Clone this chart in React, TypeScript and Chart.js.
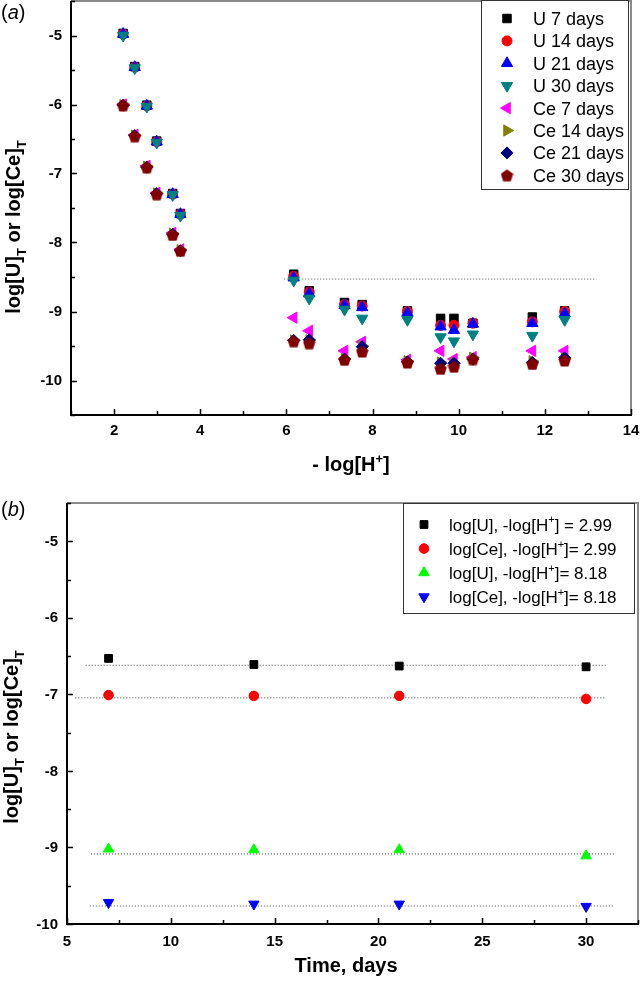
import React, { useEffect, useRef } from 'react';
import { Chart, registerables } from 'chart.js';
import { drawPoint } from 'chart.js/helpers';

Chart.register(...registerables);

const FONT = 'Arial, "Liberation Sans", Helvetica, sans-serif';

// ---------- Panel (a) data ----------
const phValues = [2.21, 2.48, 2.76, 2.99, 3.36, 3.54, 6.17, 6.53, 7.35, 7.76, 8.81, 9.58, 9.89, 10.33, 11.71, 12.46];
const u7 = [-4.97, -5.45, -6.01, -6.53, -7.29, -7.58, -8.46, -8.70, -8.87, -8.90, -8.99, -9.10, -9.10, -9.17, -9.08, -8.99];
const u14 = [-4.98, -5.46, -6.02, -6.54, -7.30, -7.59, -8.49, -8.72, -8.90, -8.92, -9.00, -9.20, -9.20, -9.17, -9.15, -9.00];
const u21 = [-4.98, -5.46, -6.02, -6.54, -7.30, -7.59, -8.51, -8.74, -8.91, -8.94, -9.02, -9.22, -9.27, -9.18, -9.17, -9.03];
const u30 = [-5.00, -5.47, -6.03, -6.55, -7.31, -7.61, -8.55, -8.81, -8.97, -9.10, -9.12, -9.37, -9.43, -9.33, -9.35, -9.12];
const ce7 = [-6.00, -6.44, -6.89, -7.28, -7.86, -8.10, -9.09, -9.28, -9.57, -9.44, -9.70, -9.57, -9.69, -9.66, -9.57, -9.57];
const ce14 = [-6.01, -6.45, -6.90, -7.29, -7.87, -8.11, -9.42, -9.42, -9.69, -9.50, -9.72, -9.74, -9.75, -9.67, -9.72, -9.68];
const ce21 = [-6.01, -6.45, -6.91, -7.29, -7.88, -8.12, -9.42, -9.41, -9.69, -9.51, -9.73, -9.75, -9.75, -9.69, -9.74, -9.67];
const ce30 = [-6.01, -6.46, -6.91, -7.30, -7.89, -8.12, -9.43, -9.46, -9.70, -9.58, -9.74, -9.83, -9.80, -9.69, -9.76, -9.71];
const labelsA = ['U 7 days', 'U 14 days', 'U 21 days', 'U 30 days', 'Ce 7 days', 'Ce 14 days', 'Ce 21 days', 'Ce 30 days'];
const xTicksA = [2, 4, 6, 8, 10, 12, 14];
const yTicksA = [-10, -9, -8, -7, -6, -5];
const refLineAX = [5.95, 13.2];
const refLineAY = [-8.53, -8.53];

// ---------- Panel (b) data ----------
const days = [7, 14, 21, 30];
const uLowPh = [-6.53, -6.61, -6.63, -6.64];
const ceLowPh = [-7.01, -7.02, -7.02, -7.06];
const uHighPh = [-9.02, -9.03, -9.03, -9.11];
const ceHighPh = [-9.72, -9.74, -9.74, -9.77];
const xTicksB = [5, 10, 15, 20, 25, 30];
const yTicksB = [-10, -9, -8, -7, -6, -5];
const refLinesBX = [[5.9, 31.0], [5.4, 30.9], [6.15, 31.35], [6.1, 31.35]];
const refLinesBY = [-6.62, -7.045, -9.085, -9.765];

type Seg = { t: string; s?: 'sub' | 'sup'; i?: boolean };

const labelsB: Seg[][] = [
  [{ t: 'log[U], -log[H' }, { t: '+', s: 'sup' }, { t: '] = 2.99' }],
  [{ t: 'log[Ce], -log[H' }, { t: '+', s: 'sup' }, { t: ']= 2.99' }],
  [{ t: 'log[U], -log[H' }, { t: '+', s: 'sup' }, { t: ']= 8.18' }],
  [{ t: 'log[Ce], -log[H' }, { t: '+', s: 'sup' }, { t: ']= 8.18' }],
];
const yTitle: Seg[] = [{ t: 'log[U]' }, { t: 'T', s: 'sub' }, { t: ' or log[Ce]' }, { t: 'T', s: 'sub' }];
const xTitleA: Seg[] = [{ t: '- log[H' }, { t: '+', s: 'sup' }, { t: ']' }];
const xTitleB: Seg[] = [{ t: 'Time, days' }];

function segFont(seg: Seg, size: number, weight: string) {
  const sz = seg.s ? size * 0.65 : size;
  return `${seg.i ? 'italic ' : ''}${weight} ${sz}px ${FONT}`;
}
function richWidth(ctx: CanvasRenderingContext2D, segs: Seg[], size: number, weight: string) {
  let w = 0;
  for (const s of segs) {
    ctx.font = segFont(s, size, weight);
    w += ctx.measureText(s.t).width;
  }
  return w;
}
function drawRich(ctx: CanvasRenderingContext2D, segs: Seg[], x: number, y: number, size: number, weight: string, align: 'left' | 'center') {
  const w = richWidth(ctx, segs, size, weight);
  let cx = align === 'center' ? x - w / 2 : x;
  ctx.textBaseline = 'alphabetic';
  ctx.textAlign = 'left';
  ctx.fillStyle = '#000';
  for (const s of segs) {
    ctx.font = segFont(s, size, weight);
    const dy = s.s === 'sub' ? size * 0.28 : s.s === 'sup' ? -size * 0.42 : 0;
    ctx.fillText(s.t, cx, y + dy);
    cx += ctx.measureText(s.t).width;
  }
}

function pentagonImage(color: string, size: number) {
  const c = document.createElement('canvas');
  c.width = size;
  c.height = size;
  const g = c.getContext('2d')!;
  const r = size / 2;
  const cy = r + (size - 1.809 * r) / 2;
  g.fillStyle = color;
  g.beginPath();
  for (let i = 0; i < 5; i++) {
    const a = -Math.PI / 2 + (i * 2 * Math.PI) / 5;
    const px = r + r * Math.cos(a);
    const py = cy + r * Math.sin(a);
    if (i === 0) g.moveTo(px, py);
    else g.lineTo(px, py);
  }
  g.closePath();
  g.fill();
  return c;
}

type Marker = { color: string; style: any; rotation: number; radius: number };

type DecorOpts = {
  xMinor: number[];
  yMinor: number[];
  xMajor: number[];
  yMajor: number[];
  xLabelGap: number;
  yLabelGap: number;
  yTitleX: number;
  yTitleY: number;
  xTitle: Seg[];
  xTitleY: number;
  xTitleX: number;
  panel: string;
  panelY: number;
  legend: { box: [number, number, number, number]; markerX: number; textX: number; rowY0: number; rowDy: number; size: number; labels: Seg[][]; markers: Marker[] };
};

function decorPlugin(o: DecorOpts) {
  return {
    id: 'decor',
    afterDraw(chart: any) {
      const ctx: CanvasRenderingContext2D = chart.ctx;
      const a = chart.chartArea;
      const xs = chart.scales.x;
      const ys = chart.scales.y;
      ctx.save();
      ctx.strokeStyle = '#8a8a8a';
      ctx.lineWidth = 2;
      ctx.beginPath();
      ctx.moveTo(a.left, a.top);
      ctx.lineTo(a.right, a.top);
      ctx.lineTo(a.right, a.bottom);
      ctx.stroke();
      ctx.strokeStyle = '#000';
      ctx.lineWidth = 2;
      ctx.beginPath();
      ctx.moveTo(a.left, a.top);
      ctx.lineTo(a.left, a.bottom);
      ctx.lineTo(a.right + 1, a.bottom);
      ctx.stroke();
      ctx.lineWidth = 1.5;
      ctx.beginPath();
      for (const v of o.xMajor) {
        const p = Math.round(xs.getPixelForValue(v)) + 0.5;
        ctx.moveTo(p, a.bottom);
        ctx.lineTo(p, a.bottom - 6);
      }
      for (const v of o.xMinor) {
        const p = Math.round(xs.getPixelForValue(v)) + 0.5;
        ctx.moveTo(p, a.bottom);
        ctx.lineTo(p, a.bottom - 4);
      }
      for (const v of o.yMajor) {
        const p = Math.round(ys.getPixelForValue(v)) + 0.5;
        ctx.moveTo(a.left, p);
        ctx.lineTo(a.left + 6, p);
      }
      for (const v of o.yMinor) {
        const p = Math.round(ys.getPixelForValue(v)) + 0.5;
        ctx.moveTo(a.left, p);
        ctx.lineTo(a.left + 4, p);
      }
      ctx.stroke();
      ctx.fillStyle = '#000';
      ctx.font = `bold 15px ${FONT}`;
      ctx.textAlign = 'center';
      ctx.textBaseline = 'middle';
      for (const v of o.xMajor) {
        ctx.fillText(String(v), xs.getPixelForValue(v), a.bottom + o.xLabelGap);
      }
      ctx.textAlign = 'right';
      for (const v of o.yMajor) {
        ctx.fillText(String(v), a.left - o.yLabelGap, ys.getPixelForValue(v) + 0.5);
      }
      ctx.save();
      ctx.translate(o.yTitleX, o.yTitleY);
      ctx.rotate(-Math.PI / 2);
      drawRich(ctx, yTitle, 0, 0, 20, 'bold', 'center');
      ctx.restore();
      drawRich(ctx, o.xTitle, o.xTitleX, o.xTitleY, 20, 'bold', 'center');
      drawRich(ctx, [{ t: '(' }, { t: o.panel, i: true }, { t: ')' }], 1, o.panelY, 20, 'normal', 'left');
      const L = o.legend;
      ctx.fillStyle = '#fff';
      ctx.fillRect(L.box[0], L.box[1], L.box[2], L.box[3]);
      ctx.strokeStyle = '#333';
      ctx.lineWidth = 1;
      ctx.strokeRect(L.box[0] + 0.5, L.box[1] + 0.5, L.box[2], L.box[3]);
      L.labels.forEach((segs, i) => {
        const y = L.rowY0 + i * L.rowDy;
        const m = L.markers[i];
        ctx.fillStyle = m.color;
        ctx.strokeStyle = m.color;
        ctx.lineWidth = 1;
        drawPoint(ctx, { pointStyle: m.style, rotation: m.rotation, radius: m.radius, borderWidth: 1 } as any, L.markerX, y);
        drawRich(ctx, segs, L.textX, y + L.size * 0.36, L.size, 'normal', 'left');
      });
      ctx.restore();
    },
  };
}

function minorBetween(ticks: number[], lo: number, hi: number) {
  const step = ticks[1] - ticks[0];
  const out: number[] = [];
  for (let v = ticks[0] - step / 2; v <= hi + 1e-9; v += step) if (v >= lo - 1e-9) out.push(v);
  return out;
}

function ChartA() {
  const ref = useRef<HTMLCanvasElement>(null);
  useEffect(() => {
    const pent = pentagonImage('#800000', 13);
    const markers: Marker[] = [
      { color: '#000000', style: 'rect', rotation: 0, radius: 6 },
      { color: '#ff0000', style: 'circle', rotation: 0, radius: 5 },
      { color: '#0000ff', style: 'triangle', rotation: 0, radius: 6.5 },
      { color: '#008080', style: 'triangle', rotation: 180, radius: 6.5 },
      { color: '#ff00ff', style: 'triangle', rotation: 270, radius: 6.5 },
      { color: '#808000', style: 'triangle', rotation: 90, radius: 6.5 },
      { color: '#000080', style: 'rectRot', rotation: 0, radius: 6 },
      { color: '#800000', style: pent, rotation: 0, radius: 6.5 },
    ];
    const series = [u7, u14, u21, u30, ce7, ce14, ce21, ce30];
    const datasets: any[] = series.map((vals, i) => ({
      label: labelsA[i],
      data: vals.map((v, j) => ({ x: phValues[j], y: v })),
      pointStyle: markers[i].style,
      rotation: markers[i].rotation,
      pointRadius: markers[i].radius,
      backgroundColor: markers[i].color,
      borderColor: markers[i].color,
      borderWidth: 1,
      order: -i,
    }));
    datasets.push({
      label: 'ref',
      data: refLineAX.map((x, j) => ({ x, y: refLineAY[j] })),
      showLine: true,
      pointRadius: 0,
      borderColor: '#555',
      borderWidth: 1,
      borderDash: [1, 2],
      order: 10,
    });
    const chart = new Chart(ref.current!, {
      type: 'scatter',
      data: { datasets },
      options: {
        animation: false,
        responsive: false,
        devicePixelRatio: 1,
        events: [],
        layout: { autoPadding: false, padding: { top: 1, right: 9, left: 0, bottom: 0 } },
        plugins: { legend: { display: false }, tooltip: { enabled: false } },
        scales: {
          x: {
            type: 'linear',
            min: 1,
            max: 14,
            grid: { display: false, drawTicks: false },
            border: { display: false },
            ticks: { display: false },
            afterFit: (s: any) => { s.height = 65; s.paddingLeft = 0; s.paddingRight = 0; },
          },
          y: {
            type: 'linear',
            min: -10.5,
            max: -4.5,
            grid: { display: false, drawTicks: false },
            border: { display: false },
            ticks: { display: false },
            afterFit: (s: any) => { s.width = 71; s.paddingTop = 0; s.paddingBottom = 0; },
          },
        },
      },
      plugins: [
        decorPlugin({
          xMajor: xTicksA,
          yMajor: yTicksA,
          xMinor: minorBetween(xTicksA, 1, 14),
          yMinor: minorBetween(yTicksA, -10.5, -4.5),
          xLabelGap: 16,
          yLabelGap: 9,
          yTitleX: 20,
          yTitleY: 227,
          xTitle: xTitleA,
          xTitleX: 351,
          xTitleY: 471,
          panel: 'a',
          panelY: 19,
          legend: {
            box: [481, 0, 147, 189],
            markerX: 507,
            textX: 533,
            rowY0: 18.5,
            rowDy: 22.4,
            size: 18,
            labels: labelsA.map((t) => [{ t }]),
            markers,
          },
        }) as any,
      ],
    });
    return () => chart.destroy();
  }, []);
  return <canvas ref={ref} width={640} height={480} style={{ display: 'block' }} />;
}

function ChartB() {
  const ref = useRef<HTMLCanvasElement>(null);
  useEffect(() => {
    const markers: Marker[] = [
      { color: '#000000', style: 'rect', rotation: 0, radius: 5.5 },
      { color: '#ff0000', style: 'circle', rotation: 0, radius: 4.8 },
      { color: '#00ff00', style: 'triangle', rotation: 0, radius: 6 },
      { color: '#0000ff', style: 'triangle', rotation: 180, radius: 6 },
    ];
    const series = [uLowPh, ceLowPh, uHighPh, ceHighPh];
    const lineColors = ['#444', '#444', '#222', '#444'];
    const datasets: any[] = series.map((vals, i) => ({
      label: 'b' + i,
      data: vals.map((v, j) => ({ x: days[j], y: v })),
      pointStyle: markers[i].style,
      rotation: markers[i].rotation,
      pointRadius: markers[i].radius,
      backgroundColor: markers[i].color,
      borderColor: markers[i].color,
      borderWidth: 1,
      order: -i,
    }));
    refLinesBY.forEach((y, i) => {
      datasets.push({
        label: 'ref' + i,
        data: refLinesBX[i].map((x) => ({ x, y })),
        showLine: true,
        pointRadius: 0,
        borderColor: lineColors[i],
        borderWidth: 1,
        borderDash: [1, 2],
        order: 10,
      });
    });
    const chart = new Chart(ref.current!, {
      type: 'scatter',
      data: { datasets },
      options: {
        animation: false,
        responsive: false,
        devicePixelRatio: 1,
        events: [],
        layout: { autoPadding: false, padding: { top: 23, right: 2, left: 0, bottom: 0 } },
        plugins: { legend: { display: false }, tooltip: { enabled: false } },
        scales: {
          x: {
            type: 'linear',
            min: 5,
            max: 32.5,
            grid: { display: false, drawTicks: false },
            border: { display: false },
            ticks: { display: false },
            afterFit: (s: any) => { s.height = 58; s.paddingLeft = 0; s.paddingRight = 0; },
          },
          y: {
            type: 'linear',
            min: -10,
            max: -4.5,
            grid: { display: false, drawTicks: false },
            border: { display: false },
            ticks: { display: false },
            afterFit: (s: any) => { s.width = 67; s.paddingTop = 0; s.paddingBottom = 0; },
          },
        },
      },
      plugins: [
        decorPlugin({
          xMajor: xTicksB,
          yMajor: yTicksB,
          xMinor: minorBetween(xTicksB, 5, 32.5),
          yMinor: minorBetween(yTicksB, -10, -4.5),
          xLabelGap: 18,
          yLabelGap: 9,
          yTitleX: 18,
          yTitleY: 257,
          xTitle: xTitleB,
          xTitleX: 346,
          xTitleY: 492,
          panel: 'b',
          panelY: 36,
          legend: {
            box: [403, 23, 231, 110],
            markerX: 424,
            textX: 449,
            rowY0: 44.5,
            rowDy: 24.1,
            size: 17,
            labels: labelsB,
            markers,
          },
        }) as any,
      ],
    });
    return () => chart.destroy();
  }, []);
  return <canvas ref={ref} width={640} height={502} style={{ display: 'block' }} />;
}

export default function App() {
  return (
    <div style={{ position: 'absolute', left: 0, top: 0, width: 640, height: 982, background: '#fff' }}>
      <ChartA />
      <ChartB />
    </div>
  );
}
